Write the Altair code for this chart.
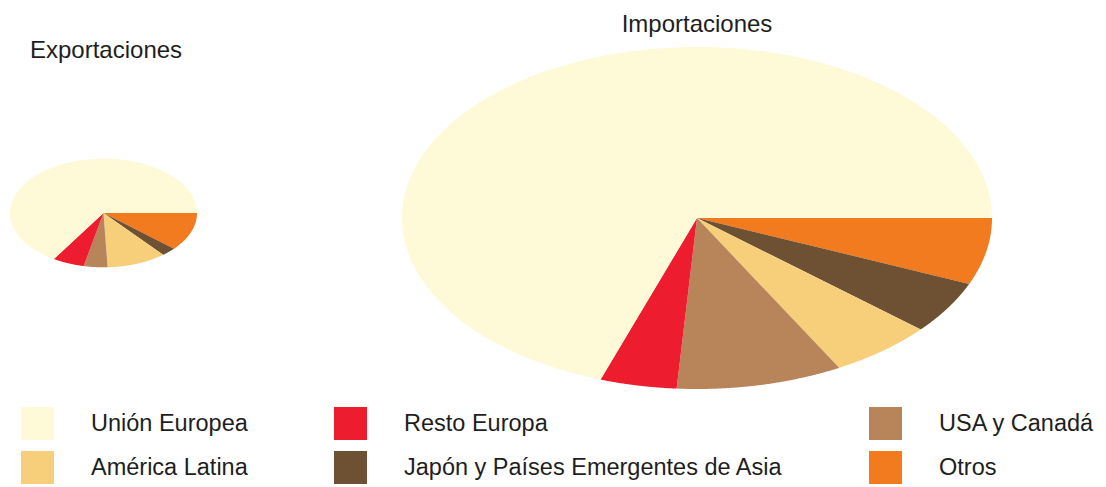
import altair as alt
import pandas as pd

# Slice order (clockwise from 3 o'clock)
categorias = ["Otros", "Japón y Países Emergentes de Asia", "América Latina",
              "USA y Canadá", "Resto Europa", "Unión Europea"]
exportaciones = [11.4, 2.6, 10.3, 4.1, 5.5, 66.1]
importaciones = [6.3, 5.0, 5.7, 9.1, 4.2, 69.7]

# Legend order (column-wise, 3 columns x 2 rows)
leyenda = ["Unión Europea", "América Latina", "Resto Europa",
           "Japón y Países Emergentes de Asia", "USA y Canadá", "Otros"]
colores = ["#FEF9D6", "#F7CF7A", "#ED1C2E", "#6E5033", "#B8845A", "#F27A1F"]

rows = []
for flujo, vals in (("Exportaciones", exportaciones), ("Importaciones", importaciones)):
    for i, (c, v) in enumerate(zip(categorias, vals)):
        rows.append({"flujo": flujo, "categoria": c, "valor": v, "orden": i})
df = pd.DataFrame(rows)

N = 120
FONT = "Liberation Sans"

color = alt.Color(
    "categoria:N",
    scale=alt.Scale(domain=leyenda, range=colores),
    legend=alt.Legend(
        orient="none", legendX=11, legendY=360, columns=3, title=None,
        symbolType="square", symbolSize=1089, symbolStrokeWidth=0, symbolOpacity=1,
        labelFontSize=23.5, labelFont=FONT, labelColor="#1e1e1e", labelLimit=600,
        columnPadding=86, rowPadding=11, labelOffset=37, padding=0,
    ),
)


def pie(flujo, width, height, ydom, title):
    return (
        alt.Chart(df)
        .transform_filter(alt.datum.flujo == flujo)
        .transform_window(cum="sum(valor)", sort=[alt.SortField("orden")], frame=[None, 0])
        .transform_joinaggregate(total="sum(valor)")
        .transform_calculate(
            a0="2*PI*(datum.cum - datum.valor)/datum.total",
            a1="2*PI*datum.cum/datum.total",
            k=f"sequence(-1, {N + 1})",
        )
        .transform_flatten(["k"])
        .transform_calculate(
            t=f"datum.a0 + (datum.a1 - datum.a0)*datum.k/{N}",
            px="datum.k < 0 ? 0 : cos(datum.t)",
            py="datum.k < 0 ? 0 : -sin(datum.t)",
        )
        .mark_line(filled=True, strokeWidth=0)
        .encode(
            x=alt.X("px:Q", scale=alt.Scale(domain=[-1, 1], nice=False, zero=False), axis=None),
            y=alt.Y("py:Q", scale=alt.Scale(domain=ydom, nice=False, zero=False), axis=None),
            color=color,
            order=alt.Order("k:Q"),
            detail="categoria:N",
        )
        .properties(width=width, height=height, title=title)
    )


t_exp = alt.Title("Exportaciones", fontSize=24, font=FONT, fontWeight="normal",
                  anchor="start", dx=20, dy=26, offset=-9, baseline="alphabetic", color="#1e1e1e")
t_imp = alt.Title("Importaciones", fontSize=24, font=FONT, fontWeight="normal",
                  anchor="middle", offset=-9, baseline="alphabetic", color="#1e1e1e")

c_exp = pie("Exportaciones", 187, 342, [-3.241, 3.057], t_exp)
c_imp = pie("Importaciones", 590, 342, [-1, 1], t_imp)

chart = (
    alt.hconcat(c_exp, c_imp, spacing=205, bounds="flush")
    .properties(padding={"left": 2, "top": 5, "right": 0, "bottom": 0})
    .configure_view(stroke=None)
)

chart.save("out.html", embed_options={"renderer": "svg", "actions": False})
